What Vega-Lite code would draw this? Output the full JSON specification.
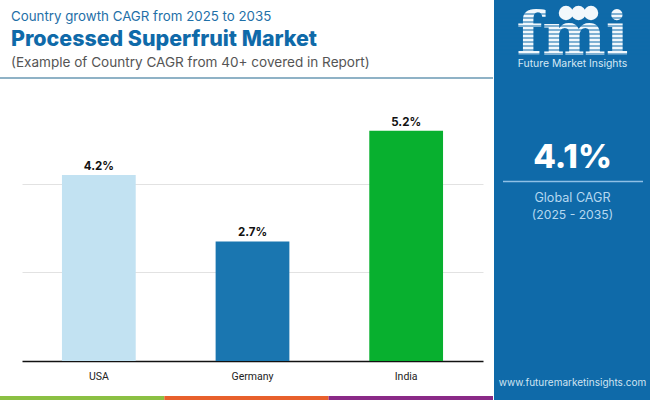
{
"$schema":"https://vega.github.io/schema/vega-lite/v6.json",
"padding":0,"background":"white","autosize":{"type":"pad"},
"config":{"view":{"stroke":null},"concat":{"spacing":0},"text":{"font":"Inter"}},
"datasets":{
"one":[{"n":1}],
"bars":[{"country":"USA","cagr":4.2,"label":"4.2%"},{"country":"Germany","cagr":2.7,"label":"2.7%"},{"country":"India","cagr":5.2,"label":"5.2%"}],
"head":[{"line":"a","t":"Country growth CAGR from 2025 to 2035"},{"line":"b","t":"Processed Superfruit Market"},{"line":"c","t":"(Example of Country CAGR from 40+ covered in Report)"}],
"stripes":[{"s":"1"},{"s":"2"},{"s":"3"},{"s":"4"},{"s":"5"},{"s":"6"},{"s":"7"},{"s":"8"},{"s":"9"},{"s":"10"},{"s":"11"}],
"icons":[{"i":"us"},{"i":"eu"},{"i":"asia"}],
"seg":[{"k":"green"},{"k":"orange"},{"k":"purple"}]
},
"resolve":{"scale":{"color":"independent"}},
"hconcat":[
{"resolve":{"scale":{"color":"independent"}},"vconcat":[
 {"bounds":"flush","hconcat":[
  {"width":11,"height":77,"data":{"name":"one"},"mark":{"type":"rect","opacity":0}},
  {"width":482,"height":77,"data":{"name":"head"},
   "encoding":{"x":{"datum":0,"type":"quantitative","scale":{"domain":[0,1]},"axis":null},
     "y":{"field":"line","type":"ordinal","scale":{"type":"point","domain":["a","b","c"],"range":[17,63],"padding":0},"axis":null},
     "text":{"field":"t"}},
   "layer":[
    {"transform":[{"filter":"datum.line=='a'"}],"mark":{"type":"text","align":"left","baseline":"middle","fontSize":13.3,"color":"#1f70a8"}},
    {"transform":[{"filter":"datum.line=='b'"}],"mark":{"type":"text","align":"left","baseline":"middle","fontSize":21.4,"fontWeight":800,"color":"#0f6aa9"}},
    {"transform":[{"filter":"datum.line=='c'"}],"mark":{"type":"text","align":"left","baseline":"middle","fontSize":13.55,"color":"#555555"}}
   ]}
 ]},
 {"width":493,"height":2,"data":{"name":"one"},"mark":{"type":"rect","color":"#8fb2c6"}},
 {"bounds":"flush","hconcat":[
  {"width":22,"height":282,"data":{"name":"one"},"mark":{"type":"rect","opacity":0}},
  {"width":461,"height":282,"data":{"name":"bars"},
   "encoding":{
    "x":{"field":"country","type":"nominal","sort":["USA","Germany","India"],"scale":{"paddingInner":0.52,"paddingOuter":0.26},
      "axis":{"title":null,"labelAngle":0,"labelFont":"Roboto","labelFontSize":10.5,"labelColor":"#222222","labelPadding":10,"ticks":false,"domainColor":"#111111","domainWidth":1.3,"minExtent":35,"maxExtent":35}},
    "y":{"field":"cagr","type":"quantitative","scale":{"domain":[0,6.37],"nice":false},
      "axis":{"title":null,"labels":false,"ticks":false,"domain":false,"values":[2,4],"grid":true,"gridColor":"#e2e2e2","gridWidth":1}}
   },
   "layer":[
    {"mark":{"type":"bar"},"encoding":{"color":{"field":"country","type":"nominal","legend":null,"scale":{"domain":["USA","Germany","India"],"range":["#c2e2f2","#1a76b0","#08b02f"]}}}},
    {"mark":{"type":"text","baseline":"bottom","dy":-3,"fontSize":11.5,"fontWeight":700,"color":"#111111"},"encoding":{"text":{"field":"label"}}}
   ]}
 ]},
 {"width":493,"height":4,"data":{"name":"seg"},"mark":{"type":"rect"},
  "encoding":{"x":{"field":"k","type":"nominal","sort":["green","orange","purple"],"scale":{"paddingInner":0,"paddingOuter":0},"axis":null},
   "color":{"field":"k","type":"nominal","legend":null,"scale":{"domain":["green","orange","purple"],"range":["#8bc043","#e8602c","#8a2a87"]}}}}
]},
{"bounds":"flush","vconcat":[
 {"width":157,"height":58,"view":{"fill":"#0f6aa9","stroke":null},"resolve":{"scale":{"y":"independent"}},
  "layer":[
   {"data":{"values":[{"slot":"letters","t":"fmi"}]},"mark":{"type":"text","font":"DejaVu Serif","fontWeight":"bold","fontSize":60,"baseline":"alphabetic","color":"#f2f8fc"},
    "encoding":{"y":{"field":"slot","type":"ordinal","scale":{"type":"point","domain":["top","letters"],"range":[13,55],"padding":0},"axis":null},"text":{"field":"t"}}},
   {"data":{"name":"stripes"},"mark":{"type":"rule","color":"#0f6aa9","strokeWidth":1.1},
    "encoding":{"y":{"field":"s","type":"ordinal","sort":null,"scale":{"type":"point","range":[14,54],"padding":0},"axis":null}}},
   {"data":{"name":"icons"},"mark":{"type":"point","shape":"circle","filled":true,"opacity":1,"size":210,"color":"#f2f8fc"},
    "encoding":{"x":{"field":"i","type":"ordinal","sort":["us","eu","asia"],"scale":{"type":"point","range":[72,97,121],"padding":0},"axis":null},
     "y":{"datum":"top","type":"ordinal","scale":{"type":"point","domain":["top","letters"],"range":[13,55],"padding":0},"axis":null}}}
  ]},
 {"width":157,"height":12,"view":{"fill":"#0f6aa9","stroke":null},"data":{"values":[{"t":"Future Market Insights"}]},"mark":{"type":"text","fontSize":10.4,"baseline":"middle","color":"#d5e8f5"},"encoding":{"text":{"field":"t"}}},
 {"width":157,"height":71,"view":{"fill":"#0f6aa9","stroke":null},"data":{"name":"one"},"mark":{"type":"rect","opacity":0}},
 {"width":157,"height":34,"view":{"fill":"#0f6aa9","stroke":null},"data":{"values":[{"t":"4.1%"}]},"mark":{"type":"text","fontSize":33,"fontWeight":800,"baseline":"middle","color":"#ffffff"},"encoding":{"text":{"field":"t"}}},
 {"width":157,"height":13,"view":{"fill":"#0f6aa9","stroke":null},"data":{"values":[{"from":0,"to":1}]},"mark":{"type":"rule","color":"#8fc0e6","strokeWidth":1.5},
  "encoding":{"x":{"field":"from","type":"quantitative","scale":{"domain":[0,1],"range":[9,149]},"axis":null},"x2":{"field":"to"}}},
 {"width":157,"height":20,"view":{"fill":"#0f6aa9","stroke":null},"data":{"values":[{"t":"Global CAGR"}]},"mark":{"type":"text","fontSize":12.6,"baseline":"middle","color":"#b5d8f0"},"encoding":{"text":{"field":"t"}}},
 {"width":157,"height":14,"view":{"fill":"#0f6aa9","stroke":null},"data":{"values":[{"t":"(2025 - 2035)"}]},"mark":{"type":"text","fontSize":12.2,"baseline":"middle","color":"#b5d8f0"},"encoding":{"text":{"field":"t"}}},
 {"width":157,"height":149,"view":{"fill":"#0f6aa9","stroke":null},"data":{"name":"one"},"mark":{"type":"rect","opacity":0}},
 {"width":157,"height":24,"view":{"fill":"#0f6aa9","stroke":null},"data":{"values":[{"t":"www.futuremarketinsights.com"}]},"mark":{"type":"text","fontSize":10,"baseline":"middle","color":"#d0e4f2"},"encoding":{"text":{"field":"t"}}},
 {"width":157,"height":5,"view":{"fill":"#0f6aa9","stroke":null},"data":{"name":"one"},"mark":{"type":"rect","opacity":0}}
]}
]}
